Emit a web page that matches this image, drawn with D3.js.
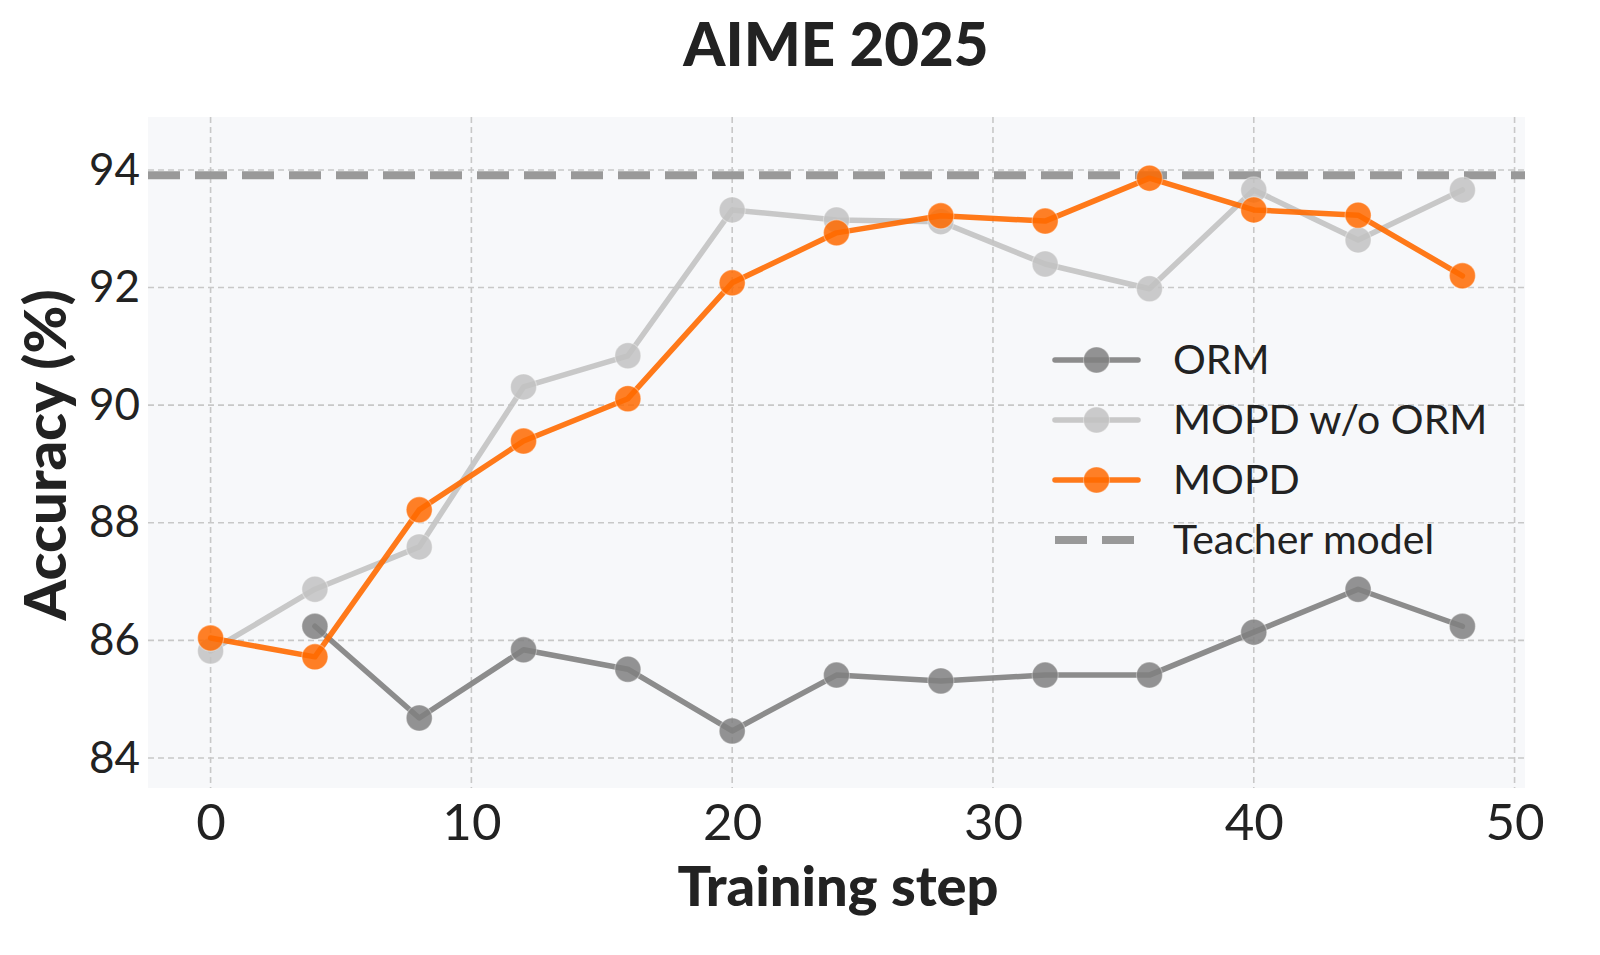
<!DOCTYPE html>
<html>
<head>
<meta charset="utf-8">
<script src="https://cdn.jsdelivr.net/npm/d3@7"></script>
<style>
  html, body { margin: 0; padding: 0; background: #fff; }
  svg { display: block; }
  text { font-family: Lato, "Noto Sans", sans-serif; fill: #222; }
</style>
</head>
<body>
<svg id="chart" width="1600" height="955"></svg>
<script>
// ---- data ----
const title = "AIME 2025";
const xLabel = "Training step";
const yLabel = "Accuracy (%)";
const stepsORM = [4, 8, 12, 16, 20, 24, 28, 32, 36, 40, 44, 48];
const valuesORM = [86.24, 84.68, 85.84, 85.51, 84.46, 85.41, 85.31, 85.41, 85.41, 86.14, 86.87, 86.24];
const stepsMOPD = [0, 4, 8, 12, 16, 20, 24, 28, 32, 36, 40, 44, 48];
const valuesNoORM = [85.82, 86.87, 87.59, 90.31, 90.84, 93.32, 93.15, 93.12, 92.40, 91.98, 93.66, 92.81, 93.66];
const valuesMOPD = [86.04, 85.72, 88.22, 89.39, 90.11, 92.08, 92.93, 93.22, 93.13, 93.86, 93.32, 93.23, 92.20];
const teacherValue = 93.91;
const xTicks = [0, 10, 20, 30, 40, 50];
const yTicks = [84, 86, 88, 90, 92, 94];
const seriesNames = ["ORM", "MOPD w/o ORM", "MOPD", "Teacher model"];

// ---- layout ----
const svg = d3.select("#chart");
const plot = { left: 148, top: 117, right: 1525, bottom: 788 };
const x = d3.scaleLinear().domain([-2.4, 50.4]).range([plot.left, plot.right]);
const y = d3.scaleLinear().domain([83.49, 94.9]).range([plot.bottom, plot.top]);

svg.append("rect")
  .attr("x", plot.left).attr("y", plot.top)
  .attr("width", plot.right - plot.left).attr("height", plot.bottom - plot.top)
  .attr("fill", "#f7f8fa");

// grid
const grid = svg.append("g");
grid.selectAll(".gx").data(xTicks).enter().append("line")
  .attr("x1", d => x(d)).attr("x2", d => x(d))
  .attr("y1", plot.top).attr("y2", plot.bottom)
  .attr("stroke", "#c8c8c8").attr("stroke-width", 1.6).attr("stroke-dasharray", "6,4");
grid.selectAll(".gy").data(yTicks).enter().append("line")
  .attr("x1", plot.left).attr("x2", plot.right)
  .attr("y1", d => y(d)).attr("y2", d => y(d))
  .attr("stroke", "#c8c8c8").attr("stroke-width", 1.6).attr("stroke-dasharray", "6,4");

// axes (labels only)
const xAxis = d3.axisBottom(x).tickValues(xTicks).tickSize(0).tickPadding(16).tickFormat(d3.format("d"));
const gx = svg.append("g").attr("transform", `translate(0,${plot.bottom})`).call(xAxis);
gx.select(".domain").remove();
gx.selectAll("text").style("font-size", "51px").style("font-family", "Lato, sans-serif").attr("fill", "#222");

const yAxis = d3.axisLeft(y).tickValues(yTicks).tickSize(0).tickPadding(8).tickFormat(d3.format("d"));
const gy = svg.append("g").attr("transform", `translate(${plot.left},0)`).call(yAxis);
gy.select(".domain").remove();
gy.selectAll("text").style("font-size", "44px").style("font-family", "Lato, sans-serif").attr("fill", "#222");

// teacher line
svg.append("line")
  .attr("x1", plot.left).attr("x2", plot.right)
  .attr("y1", y(teacherValue)).attr("y2", y(teacherValue))
  .attr("stroke", "#999").attr("stroke-width", 8).attr("stroke-dasharray", "32,15");

// series
const series = [
  { name: seriesNames[0], xs: stepsORM, ys: valuesORM, color: "#808080" },
  { name: seriesNames[1], xs: stepsMOPD, ys: valuesNoORM, color: "#c2c2c2" },
  { name: seriesNames[2], xs: stepsMOPD, ys: valuesMOPD, color: "#ff6a00" }
];
const line = d3.line().x(d => x(d[0])).y(d => y(d[1]));
series.forEach(s => {
  const pts = s.xs.map((v, i) => [v, s.ys[i]]);
  const g = svg.append("g");
  g.append("path").datum(pts).attr("d", line)
    .attr("fill", "none").attr("stroke", s.color).attr("stroke-width", 5.5)
    .attr("stroke-opacity", 0.9).attr("stroke-linejoin", "round").attr("stroke-linecap", "round");
  g.selectAll("circle").data(pts).enter().append("circle")
    .attr("cx", d => x(d[0])).attr("cy", d => y(d[1])).attr("r", 13)
    .attr("fill", s.color).attr("fill-opacity", 0.85)
    .attr("stroke", "#fff").attr("stroke-opacity", 0.35).attr("stroke-width", 1.2);
});

// legend
const legend = svg.append("g");
const legX = 1055, legY0 = 360, legDy = 60;
series.forEach((s, i) => {
  const yy = legY0 + i * legDy;
  legend.append("line").attr("x1", legX).attr("x2", legX + 83).attr("y1", yy).attr("y2", yy)
    .attr("stroke", s.color).attr("stroke-width", 5.5).attr("stroke-opacity", 0.9).attr("stroke-linecap", "round");
  legend.append("circle").attr("cx", legX + 41.5).attr("cy", yy).attr("r", 13)
    .attr("fill", s.color).attr("fill-opacity", 0.85)
    .attr("stroke", "#fff").attr("stroke-opacity", 0.35).attr("stroke-width", 1.2);
  legend.append("text").attr("x", 1173).attr("y", yy).attr("dy", "0.35em")
    .style("font-size", "41px").text(s.name);
});
{
  const yy = legY0 + 3 * legDy;
  legend.append("line").attr("x1", legX).attr("x2", legX + 83).attr("y1", yy).attr("y2", yy)
    .attr("stroke", "#999").attr("stroke-width", 8).attr("stroke-dasharray", "32,15");
  legend.append("text").attr("x", 1173).attr("y", yy).attr("dy", "0.35em")
    .style("font-size", "41px").text(seriesNames[3]);
}

// titles
svg.append("text").attr("x", 836).attr("y", 66)
  .attr("text-anchor", "middle").style("font-size", "60px").style("font-weight", "900").text(title);
svg.append("text").attr("x", 838).attr("y", 906)
  .attr("text-anchor", "middle").style("font-size", "56px").style("font-weight", "900").text(xLabel);
svg.append("text").attr("transform", `translate(66,455) rotate(-90)`)
  .attr("text-anchor", "middle").style("font-size", "58px").style("font-weight", "900").text(yLabel);
</script>
</body>
</html>
